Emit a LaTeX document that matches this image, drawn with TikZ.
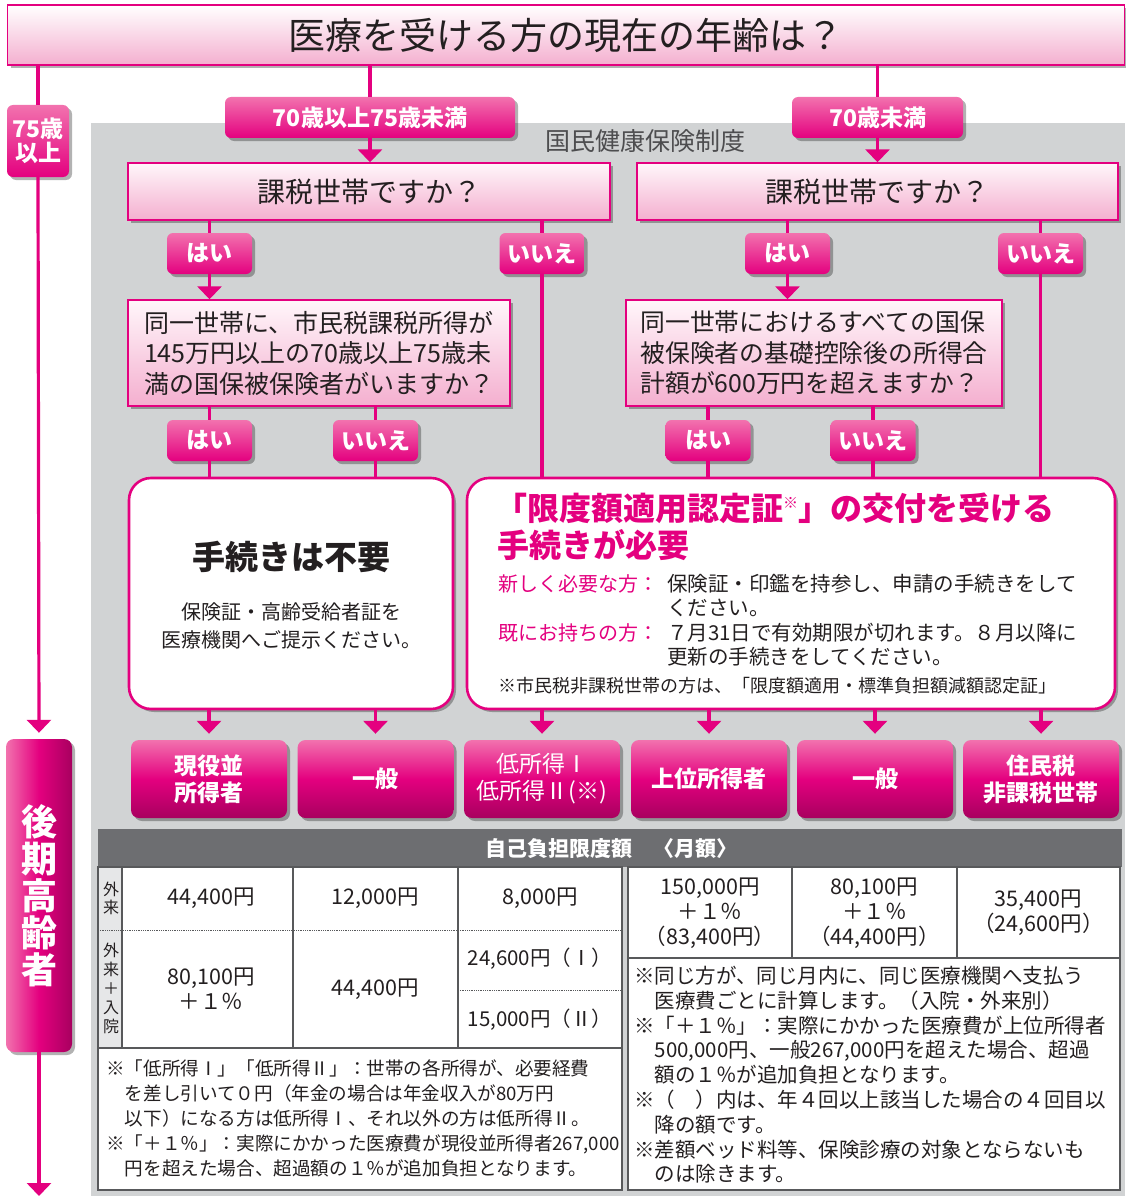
\documentclass[tikz,border=0pt]{standalone}
\usepackage{fontspec}
\setmainfont{Noto Sans CJK JP}
\usepackage{tikz}
\usetikzlibrary{arrows.meta,shadows}
\definecolor{Mag}{HTML}{E4007F}
\definecolor{MagLight}{HTML}{F272AE}
\definecolor{MagDark}{HTML}{A8005F}
\definecolor{PinkTop}{HTML}{FFF6FA}
\definecolor{PinkBot}{HTML}{F4AFCF}
\definecolor{Back}{HTML}{D1D3D4}
\definecolor{Ink}{HTML}{231F20}
\definecolor{SysGray}{HTML}{4D4D4F}
\definecolor{HeadGray}{HTML}{6D6E71}
\definecolor{CellGray}{HTML}{E6E7E8}
\definecolor{Rule}{HTML}{58595B}
\newcommand{\jfs}[2]{\fontsize{#1}{#2}\selectfont}

\begin{document}
\begin{tikzpicture}
[x=1pt,y=-1pt,
 link/.style={draw=Mag,line width=3.2pt},
 arr/.style={link,-{Triangle[width=24pt,length=13pt]}},
 boxshadow/.style={drop shadow={shadow xshift=3pt,shadow yshift=-3pt,opacity=.3,fill=black}},
 pinkbox/.style={boxshadow,draw=Mag,line width=1.4pt,top color=PinkTop,bottom color=PinkBot,inner sep=0pt,text=Ink},
 answer/.style={boxshadow,rounded corners=6pt,top color=MagLight,bottom color=Mag,text=white,inner sep=0pt,minimum height=41pt,font=\jfs{23}{26}\bfseries},
 group/.style={boxshadow,rounded corners=8pt,top color=MagLight,bottom color=MagDark,middle color=Mag,text=white,inner sep=0pt,minimum width=156pt,minimum height=78pt,align=center,font=\jfs{23}{27}\bfseries},
 roundbox/.style={boxshadow,draw=Mag,line width=2.6pt,fill=white,rounded corners=22pt,inner sep=0pt},
 rule/.style={draw=Rule,line width=1.2pt},
 cell/.style={text=Ink,align=center,inner sep=0pt,font=\jfs{21.5}{25}},
 note/.style={text=Ink,align=left,anchor=north west,inner sep=0pt},
 line/.style={anchor=west,inner sep=0pt}]
\useasboundingbox (0,0) rectangle (1125,1196);
\fill[Back] (91,123) rectangle (1125,1196);

\node[pinkbox,minimum width=1117pt,minimum height=60pt,top color=white,font=\jfs{37}{40}] (title) at (566,35) {医療を受ける方の現在の年齢は？};
\node[answer,minimum width=62pt,minimum height=72pt,align=center,font=\jfs{23}{24}\bfseries] (old) at (38,141) {75歳\\以上};
\node[answer,minimum width=290pt] (ageA) at (370,117.5) {70歳以上75歳未満};
\node[answer,minimum width=171pt] (ageB) at (877.5,117.5) {70歳未満};
\node[text=SysGray,font=\jfs{25}{25}] (sys) at (645,141) {国民健康保険制度};
\node[pinkbox,minimum width=482pt,minimum height=57pt,font=\jfs{28}{30}] (taxL) at (369,191.5) {課税世帯ですか？};
\node[pinkbox,minimum width=481pt,minimum height=57pt,font=\jfs{28}{30}] (taxR) at (877.5,191.5) {課税世帯ですか？};
\node[answer,minimum width=85pt] (yesA) at (209.5,253.5) {はい};
\node[answer,minimum width=85pt] (noA) at (542,253.5) {いいえ};
\node[answer,minimum width=85pt] (yesB) at (787.5,253.5) {はい};
\node[answer,minimum width=85pt] (noB) at (1040.5,253.5) {いいえ};
\node[pinkbox,minimum width=382pt,minimum height=106pt,align=left,font=\jfs{25}{30.5}] (askA) at (319,353) {同一世帯に、市民税課税所得が\\145万円以上の70歳以上75歳未\\満の国保被保険者がいますか？};
\node[pinkbox,minimum width=376pt,minimum height=106pt,align=left,font=\jfs{24.8}{30.5}] (askB) at (814,353) {同一世帯におけるすべての国保\\被保険者の基礎控除後の所得合\\計額が600万円を超えますか？};
\node[answer,minimum width=85pt] (yesC) at (209.5,440.5) {はい};
\node[answer,minimum width=85pt] (noC) at (375.5,440.5) {いいえ};
\node[answer,minimum width=85pt] (yesD) at (708,440.5) {はい};
\node[answer,minimum width=85pt] (noD) at (873,440.5) {いいえ};
\node[roundbox,minimum width=324pt,minimum height=231pt] (free) at (291,593.5) {};
\node[roundbox,minimum width=648pt,minimum height=231pt] (need) at (791,593.5) {};

\node[text=Ink,font=\jfs{33}{33}\bfseries] (freeT) at (291,557) {手続きは不要};
\node[text=Ink,align=center,font=\jfs{20}{28}] (freeS) at (291,626) {保険証・高齢受給者証を\\医療機関へご提示ください。};
\node[line,text=Mag,font=\jfs{32}{32}\bfseries] (needA) at (495,508) {「限度額適用認定証\raisebox{12pt}{\jfs{15}{15}※}」の交付を受ける};
\node[line,text=Mag,font=\jfs{32}{32}\bfseries] (needB) at (497,545) {手続きが必要};
\node[line,text=Mag,font=\jfs{20}{24}] (newL) at (498,584) {新しく必要な方：};
\node[note,font=\jfs{20.5}{24}] (newR) at (667,574) {保険証・印鑑を持参し、申請の手続きをして\\ください。};
\node[line,text=Mag,font=\jfs{20}{24}] (hasL) at (498,633) {既にお持ちの方：};
\node[note,font=\jfs{20.5}{24}] (hasR) at (667,623) {７月31日で有効期限が切れます。８月以降に\\更新の手続きをしてください。};
\node[line,text=Ink,font=\jfs{18}{18}] (needN) at (498,686) {※市民税非課税世帯の方は、「限度額適用・標準負担額減額認定証」};

\node[group] (g1) at (209,779) {現役並\\所得者};
\node[group] (g2) at (375.5,779) {一般};
\node[group,font=\jfs{23}{27}] (g3) at (542,779) {低所得Ⅰ\\低所得Ⅱ(※)};
\node[group] (g4) at (709,779) {上位所得者};
\node[group] (g5) at (875,779) {一般};
\node[group] (g6) at (1041,779) {住民税\\非課税世帯};
\node[boxshadow,rounded corners=8pt,left color=MagLight,right color=MagDark,middle color=Mag,minimum width=66pt,minimum height=313pt,inner sep=0pt,text=white,align=center,font=\jfs{36}{37}\bfseries] (elder) at (39,895.5) {後\\期\\高\\齢\\者};
\coordinate (bottom) at (39,1196);

\draw[link] (title.south -| old) -- (old.north);
\draw[arr,shorten >=6pt] (old.south) -- (elder.north);
\draw[arr] (elder.south) -- (bottom);
\draw[link] (title.south -| ageA) -- (ageA.north);
\draw[arr] (ageA.south) -- (ageA.south |- taxL.north);
\draw[link] (title.south -| ageB) -- (ageB.north);
\draw[arr] (ageB.south) -- (ageB.south |- taxR.north);
\draw[link] (taxL.south -| yesA) -- (yesA.north);
\draw[arr] (yesA.south) -- (yesA.south |- askA.north);
\draw[link] (taxL.south -| noA) -- (noA.north);
\draw[link] (noA.south) -- (noA.south |- need.north);
\draw[link] (taxR.south -| yesB) -- (yesB.north);
\draw[arr] (yesB.south) -- (yesB.south |- askB.north);
\draw[link] (taxR.south -| noB) -- (noB.north);
\draw[link] (noB.south) -- (noB.south |- need.north);
\draw[link] (askA.south -| yesC) -- (yesC.north);
\draw[link] (yesC.south) -- (yesC.south |- free.north);
\draw[link] (askA.south -| noC) -- (noC.north);
\draw[link] (noC.south) -- (noC.south |- free.north);
\draw[link] (askB.south -| yesD) -- (yesD.north);
\draw[link] (yesD.south) -- (yesD.south |- need.north);
\draw[link] (askB.south -| noD) -- (noD.north);
\draw[link] (noD.south) -- (noD.south |- need.north);
\draw[arr,shorten >=6pt] (free.south -| g1) -- (g1.north);
\draw[arr,shorten >=6pt] (free.south -| g2) -- (g2.north);
\draw[arr,shorten >=6pt] (need.south -| g3) -- (g3.north);
\draw[arr,shorten >=6pt] (need.south -| g4) -- (g4.north);
\draw[arr,shorten >=6pt] (need.south -| g5) -- (g5.north);
\draw[arr,shorten >=6pt] (need.south -| g6) -- (g6.north);

\fill[HeadGray] (98,829) rectangle (1122,867);
\node[text=white,font=\jfs{21}{21}\bfseries] (head) at (611,849) {自己負担限度額　〈月額〉};
\fill[white] (98,867) rectangle (622,1190) (628,867) rectangle (1120,1190);
\fill[CellGray] (98,867) rectangle (122,1048);
\draw[rule] (98,867) rectangle (622,1190) (628,867) rectangle (1120,1190);
\draw[rule] (122,867) -- (122,1048) (293,867) -- (293,1048) (458,867) -- (458,1048) (98,1048) -- (622,1048);
\draw[rule,line width=.8pt,densely dotted] (98,930) -- (622,930) (458,990) -- (622,990);
\draw[rule] (792,867) -- (792,958) (957,867) -- (957,958) (628,958) -- (1120,958);

\node[cell,font=\jfs{16}{18}] (r1) at (111,898) {外\\来};
\node[cell,font=\jfs{16}{19}] (r2) at (111,988) {外\\来\\＋\\入\\院};
\node[cell] (c1) at (211,898) {44,400円};
\node[cell] (c2) at (375,898) {12,000円};
\node[cell] (c3) at (540,898) {8,000円};
\node[cell] (c4) at (211,989) {80,100円\\＋１％};
\node[cell] (c5) at (375,989) {44,400円};
\node[cell,font=\jfs{20.5}{24}] (c6) at (540,959) {24,600円（Ⅰ）};
\node[cell,font=\jfs{20.5}{24}] (c7) at (540,1020) {15,000円（Ⅱ）};
\node[cell] (c8) at (710,913) {150,000円\\＋１％\\（83,400円）};
\node[cell] (c9) at (874.5,913) {80,100円\\＋１％\\（44,400円）};
\node[cell] (c10) at (1038.5,913) {35,400円\\（24,600円）};

\node[note,font=\jfs{18.6}{25}] (noteL) at (106,1060) {※「低所得Ⅰ」「低所得Ⅱ」：世帯の各所得が、必要経費\\　を差し引いて０円（年金の場合は年金収入が80万円\\　以下）になる方は低所得Ⅰ、それ以外の方は低所得Ⅱ。\\※「＋１％」：実際にかかった医療費が現役並所得者267,000\\　円を超えた場合、超過額の１％が追加負担となります。};
\node[note,font=\jfs{20.5}{24.8}] (noteR) at (634,966) {※同じ方が、同じ月内に、同じ医療機関へ支払う\\　医療費ごとに計算します。（入院・外来別）\\※「＋１％」：実際にかかった医療費が上位所得者\\　500,000円、一般267,000円を超えた場合、超過\\　額の１％が追加負担となります。\\※（　）内は、年４回以上該当した場合の４回目以\\　降の額です。\\※差額ベッド料等、保険診療の対象とならないも\\　のは除きます。};
\end{tikzpicture}
\end{document}
